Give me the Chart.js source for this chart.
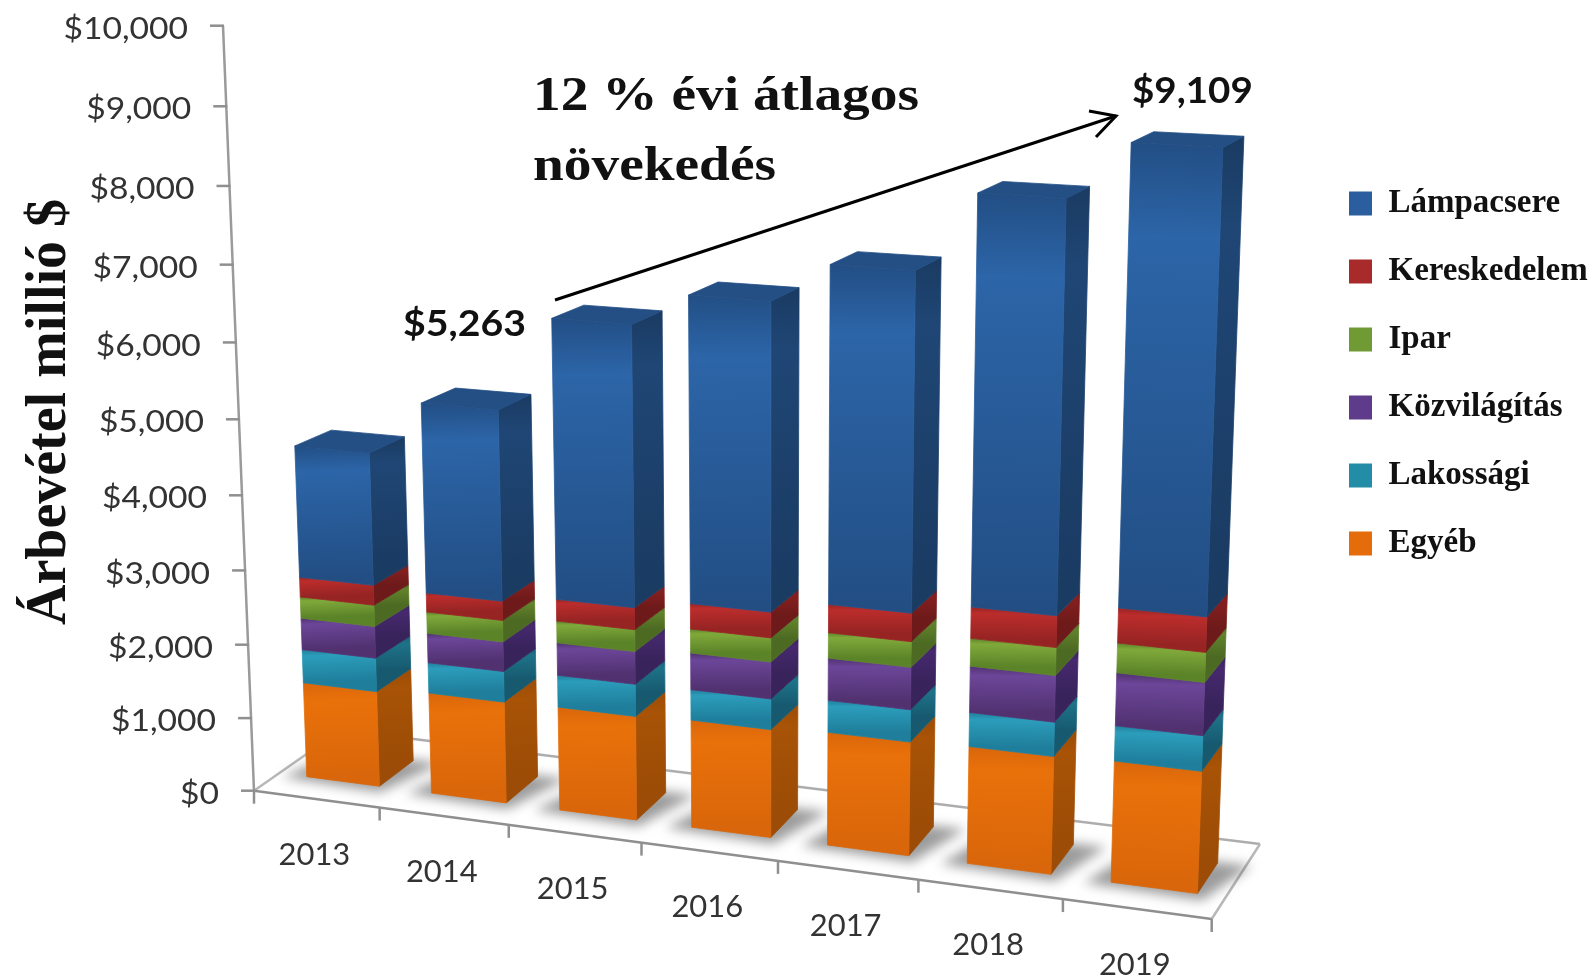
<!DOCTYPE html>
<html>
<head>
<meta charset="utf-8">
<title>Árbevétel</title>
<script src="https://cdn.jsdelivr.net/npm/chart.js@4/dist/chart.umd.js"></script>
<style>
  html, body { margin: 0; padding: 0; background: #fff; }
  canvas { display: block; }
</style>
</head>
<body>
<canvas id="revenue" width="1591" height="978"></canvas>
<script>
const years = ['2013', '2014', '2015', '2016', '2017', '2018', '2019'];
const tickLabels = ['$0', '$1,000', '$2,000', '$3,000', '$4,000', '$5,000', '$6,000', '$7,000', '$8,000', '$9,000', '$10,000'];

const egyeb = [1313, 1380, 1400, 1440, 1495, 1530, 1565];
const lakossagi = [459, 415, 430, 405, 420, 440, 450];
const kozvilagitas = [434, 400, 435, 485, 550, 595, 670];
const ipar = [290, 288, 290, 315, 330, 355, 375];
const kereskedelem = [270, 258, 290, 335, 365, 400, 440];
const lampacsere = [1775, 2522, 3655, 3945, 4270, 5090, 5609];

// light, dark front shades and light, dark side shades for each series
const shades = {
  egyeb: ['#E9710A', '#D9660A', '#A85306', '#9C4C06'],
  lakossagi: ['#2B9DBB', '#1F7E9B', '#1E7389', '#175A70'],
  kozvilagitas: ['#6C4699', '#513170', '#46296E', '#38235A'],
  ipar: ['#80A93B', '#5B8328', '#62832C', '#4C6A22'],
  kereskedelem: ['#BB2D2C', '#962423', '#861F1F', '#6E1A1A'],
  lampacsere: ['#2C65A8', '#224E84', '#1F4675', '#1A3B62']
};
const topFace = '#234F85';

// where the front and back planes of the box land on the canvas
const frontPlane = [[254, 790.7], [1211.7, 919], [1241, 78], [223, 25.7]];
const backPlane = [[341, 730], [1260, 844], [1291.5, 55], [318, 18]];
const barFront = 0.29;
const barBack = 0.7;
const barNudge = 0.0025;

function squareToQuad(q) {
  const [[x0, y0], [x1, y1], [x2, y2], [x3, y3]] = q;
  const dx1 = x1 - x2, dx2 = x3 - x2, sx = x0 - x1 + x2 - x3;
  const dy1 = y1 - y2, dy2 = y3 - y2, sy = y0 - y1 + y2 - y3;
  const den = dx1 * dy2 - dx2 * dy1;
  const g = (sx * dy2 - dx2 * sy) / den;
  const h = (dx1 * sy - sx * dy1) / den;
  const a = x1 - x0 + g * x1, b = x3 - x0 + h * x3;
  const d = y1 - y0 + g * y1, e = y3 - y0 + h * y3;
  return (u, v) => {
    const w = g * u + h * v + 1;
    return [(a * u + b * v + x0) / w, (d * u + e * v + y0) / w];
  };
}
const toFront = squareToQuad(frontPlane);
const toBack = squareToQuad(backPlane);

// u across the years, v up the value axis, t from front to back
function project(u, v, t) {
  const f = toFront(u, v), b = toBack(u, v);
  return [f[0] + (b[0] - f[0]) * t, f[1] + (b[1] - f[1]) * t];
}

function poly(ctx, pts, fill, seam) {
  ctx.beginPath();
  pts.forEach((p, i) => i ? ctx.lineTo(p[0], p[1]) : ctx.moveTo(p[0], p[1]));
  ctx.closePath();
  ctx.fillStyle = fill;
  ctx.fill();
  if (seam) {
    // closes the hairline gaps between neighbouring faces
    ctx.strokeStyle = fill;
    ctx.lineWidth = 0.8;
    ctx.stroke();
  }
}

function line(ctx, a, b, color, width) {
  ctx.beginPath();
  ctx.moveTo(a[0], a[1]);
  ctx.lineTo(b[0], b[1]);
  ctx.strokeStyle = color;
  ctx.lineWidth = width;
  ctx.stroke();
}

function text(ctx, str, x, y, font, color, stretch, align) {
  ctx.save();
  ctx.translate(x, y);
  ctx.scale(stretch, 1);
  ctx.font = font;
  ctx.fillStyle = color;
  ctx.textAlign = align || 'left';
  ctx.textBaseline = 'middle';
  ctx.fillText(str, 0, 0);
  ctx.restore();
}

function shade(ctx, from, to, light, dark) {
  const g = ctx.createLinearGradient(from[0], from[1], to[0], to[1]);
  g.addColorStop(0, dark);
  g.addColorStop(0.2, light);
  g.addColorStop(1, dark);
  return g;
}

const box3d = {
  id: 'box3d',
  afterLayout(chart) {
    chart.legend.left = 1314;
    chart.legend.top = 152;
  },
  beforeDatasetsDraw(chart) {
    const ctx = chart.ctx;
    const area = chart.chartArea;
    const xs = chart.scales.x, ys = chart.scales.y;
    const toU = px => (px - area.left) / area.width;
    const toV = py => (area.bottom - py) / area.height;

    // floor outline
    line(ctx, project(0, 0, 1), project(1, 0, 1), '#adadad', 2.5);
    line(ctx, project(1, 0, 1), project(1, 0, 0), '#b8b8b8', 2.5);
    line(ctx, project(0, 0, 1), project(0, 0, 0), '#b8b8b8', 2.5);
    line(ctx, project(0, 0, 0), project(1, 0, 0), '#8f8f8f', 2.5);

    // value axis, ticks and labels
    line(ctx, project(0, 0, 0), project(0, 1, 0), '#9a9a9a', 2.5);
    ys.ticks.forEach(tick => {
      const p = project(0, toV(ys.getPixelForValue(tick.value)), 0);
      line(ctx, [p[0] - 13, p[1]], [p[0] + 1, p[1]], '#8f8f8f', 2.5);
      text(ctx, tick.label, p[0] - 35, p[1] + 3.5, '30px Lato', '#333', 1.12, 'right');
    });

    // year ticks and labels on the front edge
    const band = xs.getPixelForValue(1) - xs.getPixelForValue(0);
    for (let i = 0; i <= years.length; i++) {
      const p = project(toU(xs.getPixelForValue(0) + (i - 0.5) * band), 0, 0);
      line(ctx, p, [p[0], p[1] + 13], '#8f8f8f', 2.5);
    }
    years.forEach((year, i) => {
      const p = project(toU(xs.getPixelForValue(i)), 0, 0);
      text(ctx, year, p[0] - 2, p[1] + 56, '30px Lato', '#333', 1.03, 'center');
    });

    // soft shadows on the floor under each column
    const last = chart.data.datasets.length - 1;
    chart.getDatasetMeta(0).data.forEach(el => {
      const u0 = toU(el.x - el.width / 2) + barNudge, u1 = toU(el.x + el.width / 2) + barNudge;
      ctx.save();
      ctx.filter = 'blur(6px)';
      poly(ctx, [
        project(u0 - 0.024, 0, barFront - 0.05),
        project(u1 + 0.008, 0, barFront - 0.08),
        project(u1 + 0.032, 0, barBack + 0.02),
        project(u0, 0, barBack)
      ], 'rgba(90,90,90,0.6)');
      ctx.restore();
    });

    // columns, stacked bottom to top from the bar elements
    chart.data.datasets.forEach((ds, d) => {
      chart.getDatasetMeta(d).data.forEach(el => {
        const u0 = toU(el.x - el.width / 2) + barNudge, u1 = toU(el.x + el.width / 2) + barNudge;
        const v0 = toV(el.base), v1 = toV(el.y);
        const c = ds.shades;
        const fl = project(u0, v1, barFront), fr = project(u1, v1, barFront);
        const bl = project(u0, v0, barFront), br = project(u1, v0, barFront);
        const tr = project(u1, v1, barBack), dr = project(u1, v0, barBack);
        poly(ctx, [fr, tr, dr, br], shade(ctx, tr, dr, c[2], c[3]), true);
        poly(ctx, [fl, fr, br, bl], shade(ctx, fl, bl, c[0], c[1]), true);
        if (d === last) {
          poly(ctx, [fl, fr, tr, project(u0, v1, barBack)], topFace, true);
        }
      });
    });

    return false;
  },
  afterDraw(chart) {
    const ctx = chart.ctx;
    const serif = '"Liberation Serif"';

    ctx.save();
    ctx.translate(69, 412);
    ctx.rotate(-Math.PI / 2);
    text(ctx, 'Árbevétel millió $', 0, -18, 'bold 56px ' + serif, '#111', 1, 'center');
    ctx.restore();

    text(ctx, '12 % évi átlagos', 533, 97, 'bold 49px ' + serif, '#111', 1.13);
    text(ctx, 'növekedés', 533, 167, 'bold 49px ' + serif, '#111', 1.13);
    text(ctx, '$5,263', 403, 324, 'bold 36px Lato', '#111', 1.09);
    text(ctx, '$9,109', 1132, 91, 'bold 36px Lato', '#111', 1.07);

    line(ctx, [555, 300], [1116, 116], '#000', 3);
    ctx.beginPath();
    ctx.moveTo(1089, 111);
    ctx.lineTo(1116, 116);
    ctx.lineTo(1096, 137);
    ctx.strokeStyle = '#000';
    ctx.lineWidth = 3;
    ctx.stroke();
  }
};

const series = [
  ['Egyéb', egyeb, '#E46C0A', shades.egyeb],
  ['Lakossági', lakossagi, '#238DA8', shades.lakossagi],
  ['Közvilágítás', kozvilagitas, '#5E3C8B', shades.kozvilagitas],
  ['Ipar', ipar, '#6F9A34', shades.ipar],
  ['Kereskedelem', kereskedelem, '#A92A2A', shades.kereskedelem],
  ['Lámpacsere', lampacsere, '#2A5E9E', shades.lampacsere]
];

new Chart(document.getElementById('revenue'), {
  type: 'bar',
  data: {
    labels: years,
    datasets: series.map(s => ({
      label: s[0],
      data: s[1],
      backgroundColor: s[2],
      shades: s[3],
      barPercentage: 0.586,
      categoryPercentage: 1
    }))
  },
  options: {
    responsive: false,
    animation: false,
    plugins: {
      tooltip: { enabled: false },
      legend: {
        position: 'right',
        align: 'start',
        reverse: true,
        labels: {
          boxWidth: 23,
          boxHeight: 24,
          padding: 35,
          color: '#111',
          font: { family: 'Liberation Serif', size: 33, weight: 'bold' }
        }
      }
    },
    scales: {
      x: { stacked: true, display: false },
      y: {
        stacked: true,
        display: false,
        min: 0,
        max: 10000,
        ticks: { stepSize: 1000, callback: (value, i) => tickLabels[i] }
      }
    }
  },
  plugins: [box3d]
});
</script>
</body>
</html>
